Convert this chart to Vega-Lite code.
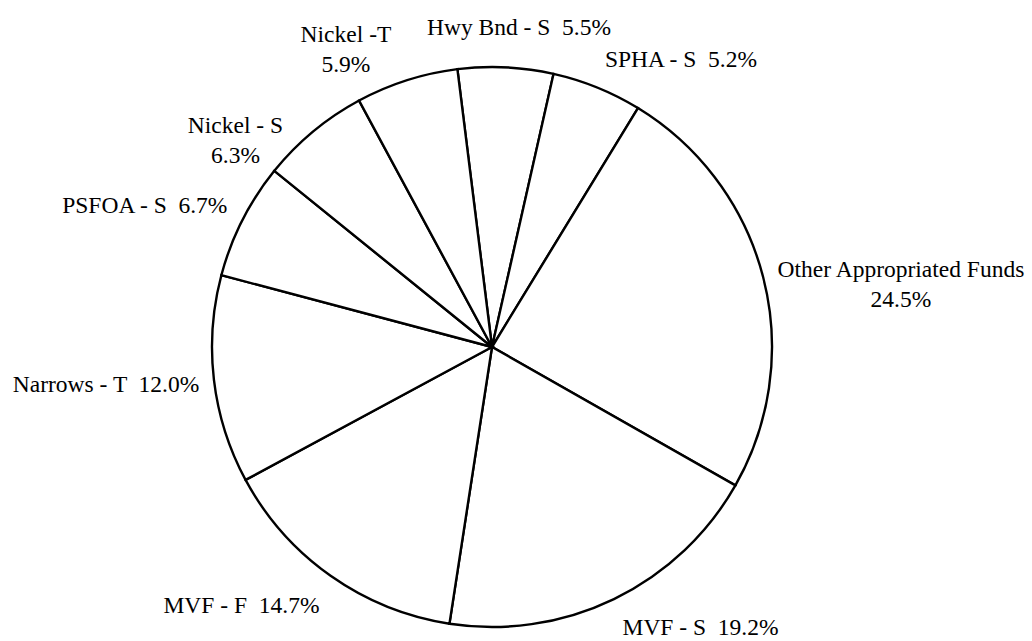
{
  "$schema": "https://vega.github.io/schema/vega-lite/v6.json",
  "width": 984,
  "height": 588,
  "autosize": {"type": "none"},
  "padding": {"left": 0, "top": 53, "right": 48, "bottom": 0},
  "background": "white",
  "view": {"stroke": null},
  "config": {
    "text": {"font": "Liberation Serif, Times New Roman, serif", "fontSize": 23.5, "lineBreak": "\n", "lineHeight": 30, "align": "center", "baseline": "middle", "fill": "black"}
  },
  "data": {
    "values": [
      {"k": 1, "name": "Hwy Bnd - S", "share": 5.5, "label": "Hwy Bnd - S \u00a05.5%"},
      {"k": 2, "name": "SPHA - S", "share": 5.2, "label": "SPHA - S \u00a05.2%"},
      {"k": 3, "name": "Other Appropriated Funds", "share": 24.5, "label": "Other Appropriated Funds\n24.5%"},
      {"k": 4, "name": "MVF - S", "share": 19.2, "label": "MVF - S \u00a019.2%"},
      {"k": 5, "name": "MVF - F", "share": 14.7, "label": "MVF - F \u00a014.7%"},
      {"k": 6, "name": "Narrows - T", "share": 12.0, "label": "Narrows - T \u00a012.0%"},
      {"k": 7, "name": "PSFOA - S", "share": 6.7, "label": "PSFOA - S \u00a06.7%"},
      {"k": 8, "name": "Nickel - S", "share": 6.3, "label": "Nickel - S\n6.3%"},
      {"k": 9, "name": "Nickel -T", "share": 5.9, "label": "Nickel -T\n5.9%"}
    ]
  },
  "encoding": {
    "theta": {
      "field": "share",
      "type": "quantitative",
      "stack": true,
      "scale": {"range": [-0.12392, 6.15927]}
    },
    "order": {"field": "k", "type": "quantitative"}
  },
  "layer": [
    {
      "mark": {"type": "arc", "radius": 280, "fill": "white", "stroke": "black", "strokeWidth": 2.4},
      "encoding": {"detail": {"field": "name", "type": "nominal"}}
    },
    {
      "mark": {"type": "text", "radius": 320.1, "thetaOffset": 0.0356},
      "encoding": {"text": {"condition": {"test": "datum.k == 1", "field": "label"}, "value": ""}}
    },
    {
      "mark": {"type": "text", "radius": 343.9, "thetaOffset": 0.1967},
      "encoding": {"text": {"condition": {"test": "datum.k == 2", "field": "label"}, "value": ""}}
    },
    {
      "mark": {"type": "text", "radius": 416.2, "thetaOffset": 0.066},
      "encoding": {"text": {"condition": {"test": "datum.k == 3", "field": "label"}, "value": ""}}
    },
    {
      "mark": {"type": "text", "radius": 349.9, "thetaOffset": -0.1878},
      "encoding": {"text": {"condition": {"test": "datum.k == 4", "field": "label"}, "value": ""}}
    },
    {
      "mark": {"type": "text", "radius": 360.1, "thetaOffset": 0.155},
      "encoding": {"text": {"condition": {"test": "datum.k == 5", "field": "label"}, "value": ""}}
    },
    {
      "mark": {"type": "text", "radius": 387.8, "thetaOffset": 0.0202},
      "encoding": {"text": {"condition": {"test": "datum.k == 6", "field": "label"}, "value": ""}}
    },
    {
      "mark": {"type": "text", "radius": 374.6, "thetaOffset": -0.0848},
      "encoding": {"text": {"condition": {"test": "datum.k == 7", "field": "label"}, "value": ""}}
    },
    {
      "mark": {"type": "text", "radius": 338.9, "thetaOffset": -0.166},
      "encoding": {"text": {"condition": {"test": "datum.k == 8", "field": "label"}, "value": ""}}
    },
    {
      "mark": {"type": "text", "radius": 344.5, "thetaOffset": -0.1285},
      "encoding": {"text": {"condition": {"test": "datum.k == 9", "field": "label"}, "value": ""}}
    }
  ]
}
